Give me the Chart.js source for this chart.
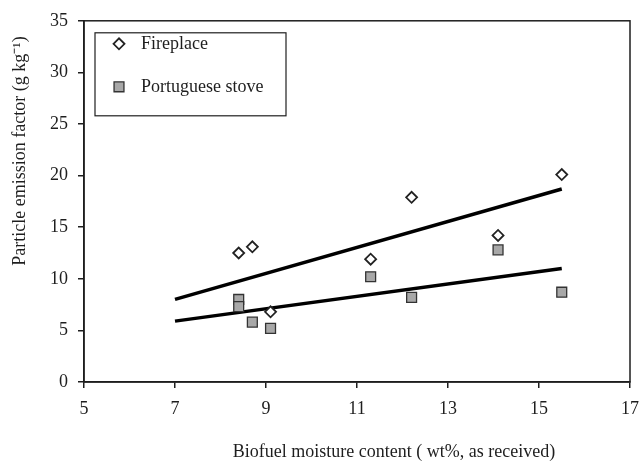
<!DOCTYPE html>
<html>
<head>
<meta charset="utf-8">
<script src="https://cdn.jsdelivr.net/npm/chart.js@4.4.1/dist/chart.umd.min.js"></script>
<style>
  html, body { margin: 0; padding: 0; background: #fff; }
</style>
</head>
<body>
<canvas id="chart" width="641" height="471"></canvas>
<script>
// values
const fireplaceX = [8.4, 8.7, 9.1, 11.3, 12.2, 14.1, 15.5];
const fireplaceY = [12.5, 13.1, 6.8, 11.9, 17.9, 14.2, 20.1];
const stoveX = [8.4, 8.4, 8.7, 9.1, 11.3, 12.2, 14.1, 15.5];
const stoveY = [8.0, 7.3, 5.8, 5.2, 10.2, 8.2, 12.8, 8.7];
const trendX = [7, 15.5];
const fireplaceTrendY = [8.0, 18.7];
const stoveTrendY = [5.9, 11.0];
const seriesNames = ['Fireplace', 'Portuguese stove'];
const xTitle = 'Biofuel moisture content ( wt%, as received)';
const yTitle = 'Particle emission factor (g kg\u207B\u00B9)';

const SERIF = "'Liberation Serif', 'Times New Roman', serif";
const INK = '#1e1e1e';

const toPoints = (xs, ys) => xs.map((x, i) => ({ x, y: ys[i] }));

// frame, axis titles and the boxed legend
const decorPlugin = {
  id: 'decor',
  afterDraw(chart) {
    const { ctx, chartArea: a } = chart;
    ctx.save();
    ctx.strokeStyle = INK;
    ctx.lineWidth = 1.5;
    ctx.strokeRect(a.left, a.top, a.right - a.left, a.bottom - a.top);

    ctx.fillStyle = INK;
    ctx.font = '18px ' + SERIF;
    ctx.textAlign = 'center';
    ctx.textBaseline = 'middle';
    ctx.fillText(xTitle, 394, 452);

    ctx.save();
    ctx.translate(20, 151);
    ctx.rotate(-Math.PI / 2);
    ctx.fillText(yTitle, 0, 0);
    ctx.restore();

    // legend
    const lx = a.left + 11, ly = a.top + 12;
    ctx.lineWidth = 1.2;
    ctx.strokeRect(lx, ly, 191, 83);
    ctx.textAlign = 'left';
    [0, 1].forEach(i => {
      const ds = chart.data.datasets[i];
      const cy = ly + 11 + i * 43;
      ctx.fillStyle = ds.backgroundColor;
      ctx.strokeStyle = ds.borderColor;
      ctx.lineWidth = ds.borderWidth;
      Chart.helpers.drawPoint(ctx, { pointStyle: ds.pointStyle, radius: ds.pointRadius, rotation: 0, borderWidth: ds.borderWidth }, lx + 24, cy);
      ctx.fillStyle = INK;
      ctx.fillText(ds.label, lx + 46, cy);
    });
    ctx.restore();
  }
};

const axisGrid = { drawOnChartArea: false, drawTicks: true, tickLength: 6, color: INK, lineWidth: 1.5 };

new Chart(document.getElementById('chart'), {
  type: 'scatter',
  data: {
    datasets: [
      {
        label: seriesNames[0],
        data: toPoints(fireplaceX, fireplaceY),
        pointStyle: 'rectRot',
        pointRadius: 5.5,
        backgroundColor: '#ffffff',
        borderColor: '#222222',
        borderWidth: 1.8
      },
      {
        label: seriesNames[1],
        data: toPoints(stoveX, stoveY),
        pointStyle: 'rect',
        pointRadius: 7,
        backgroundColor: '#a8a8a8',
        borderColor: '#333333',
        borderWidth: 1.3
      },
      {
        label: 'Fireplace trend',
        data: toPoints(trendX, fireplaceTrendY),
        showLine: true,
        pointRadius: 0,
        borderColor: '#000000',
        borderWidth: 3.5
      },
      {
        label: 'Stove trend',
        data: toPoints(trendX, stoveTrendY),
        showLine: true,
        pointRadius: 0,
        borderColor: '#000000',
        borderWidth: 3.5
      }
    ]
  },
  options: {
    responsive: false,
    animation: false,
    layout: { padding: { top: 20, right: 11, left: 0, bottom: 0 } },
    scales: {
      x: {
        type: 'linear',
        min: 5,
        max: 17,
        afterFit: (scale) => {
          scale.height = 89;
          scale.paddingRight = 0;
          scale.paddingLeft = 0;
        },
        ticks: { stepSize: 2, color: INK, padding: 10, font: { family: SERIF, size: 18 } },
        grid: axisGrid,
        border: { display: true, color: INK, width: 1.5 }
      },
      y: {
        min: 0,
        max: 35,
        afterFit: (scale) => { scale.width = 84; },
        ticks: { stepSize: 5, color: INK, padding: 10, font: { family: SERIF, size: 18 } },
        grid: axisGrid,
        border: { display: true, color: INK, width: 1.5 }
      }
    },
    plugins: {
      legend: { display: false },
      tooltip: { enabled: false }
    }
  },
  plugins: [decorPlugin]
});
</script>
</body>
</html>
